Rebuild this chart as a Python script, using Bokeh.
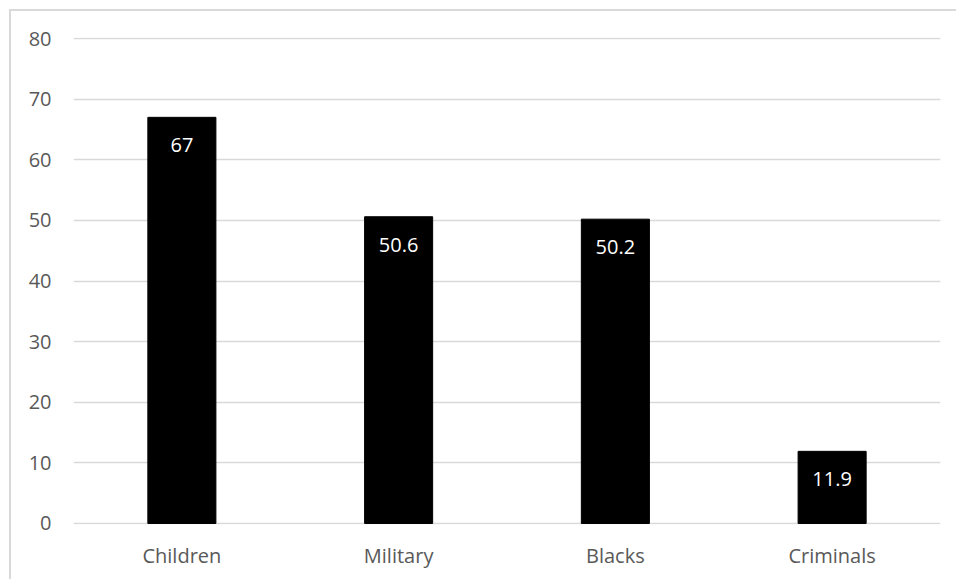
from bokeh.plotting import figure
from bokeh.models import ColumnDataSource, FactorRange, Range1d, FixedTicker
from bokeh.core.properties import value
from bokeh.embed import file_html
from bokeh.resources import INLINE

categories = ["Children", "Military", "Blacks", "Criminals"]
values = [67, 50.6, 50.2, 11.9]
labels = ["67", "50.6", "50.2", "11.9"]
y_ticks = [0, 10, 20, 30, 40, 50, 60, 70, 80]

FONT = "Open Sans"

src = ColumnDataSource(dict(cat=categories, val=values, lab=labels))

p = figure(
    width=947, height=570,
    x_range=FactorRange(*categories, range_padding=0),
    y_range=Range1d(-0.17, 80.17),
    output_backend="svg", toolbar_location=None,
    min_border_left=62, min_border_right=18, min_border_top=26, min_border_bottom=57,
)
p.styles = {"margin-left": "9px", "margin-top": "9px",
            "border-left": "2px solid #d9d9d9", "border-top": "2px solid #d9d9d9"}
p.outline_line_color = None
p.background_fill_color = "white"
p.border_fill_color = "white"

p.vbar(x="cat", top="val", width=0.314, source=src, color="black")
p.text(x="cat", y="val", text="lab", source=src, text_align="center",
       text_baseline="middle", y_offset=28, text_color="white",
       text_font=value(FONT), text_font_size="20px")

p.xgrid.grid_line_color = None
p.ygrid.grid_line_color = "#d9d9d9"
p.ygrid.grid_line_width = 1.5
p.yaxis.ticker = FixedTicker(ticks=y_ticks)

for ax in (p.xaxis[0], p.yaxis[0]):
    ax.axis_line_color = None
    ax.major_tick_line_color = None
    ax.minor_tick_line_color = None
    ax.major_tick_out = 0
    ax.major_tick_in = 0
    ax.major_label_text_font = FONT
    ax.major_label_text_font_size = "20px"
    ax.major_label_text_color = "#595959"
p.yaxis.major_label_standoff = 22
p.xaxis.major_label_standoff = 17

open("out.html", "w").write(file_html(p, INLINE))
